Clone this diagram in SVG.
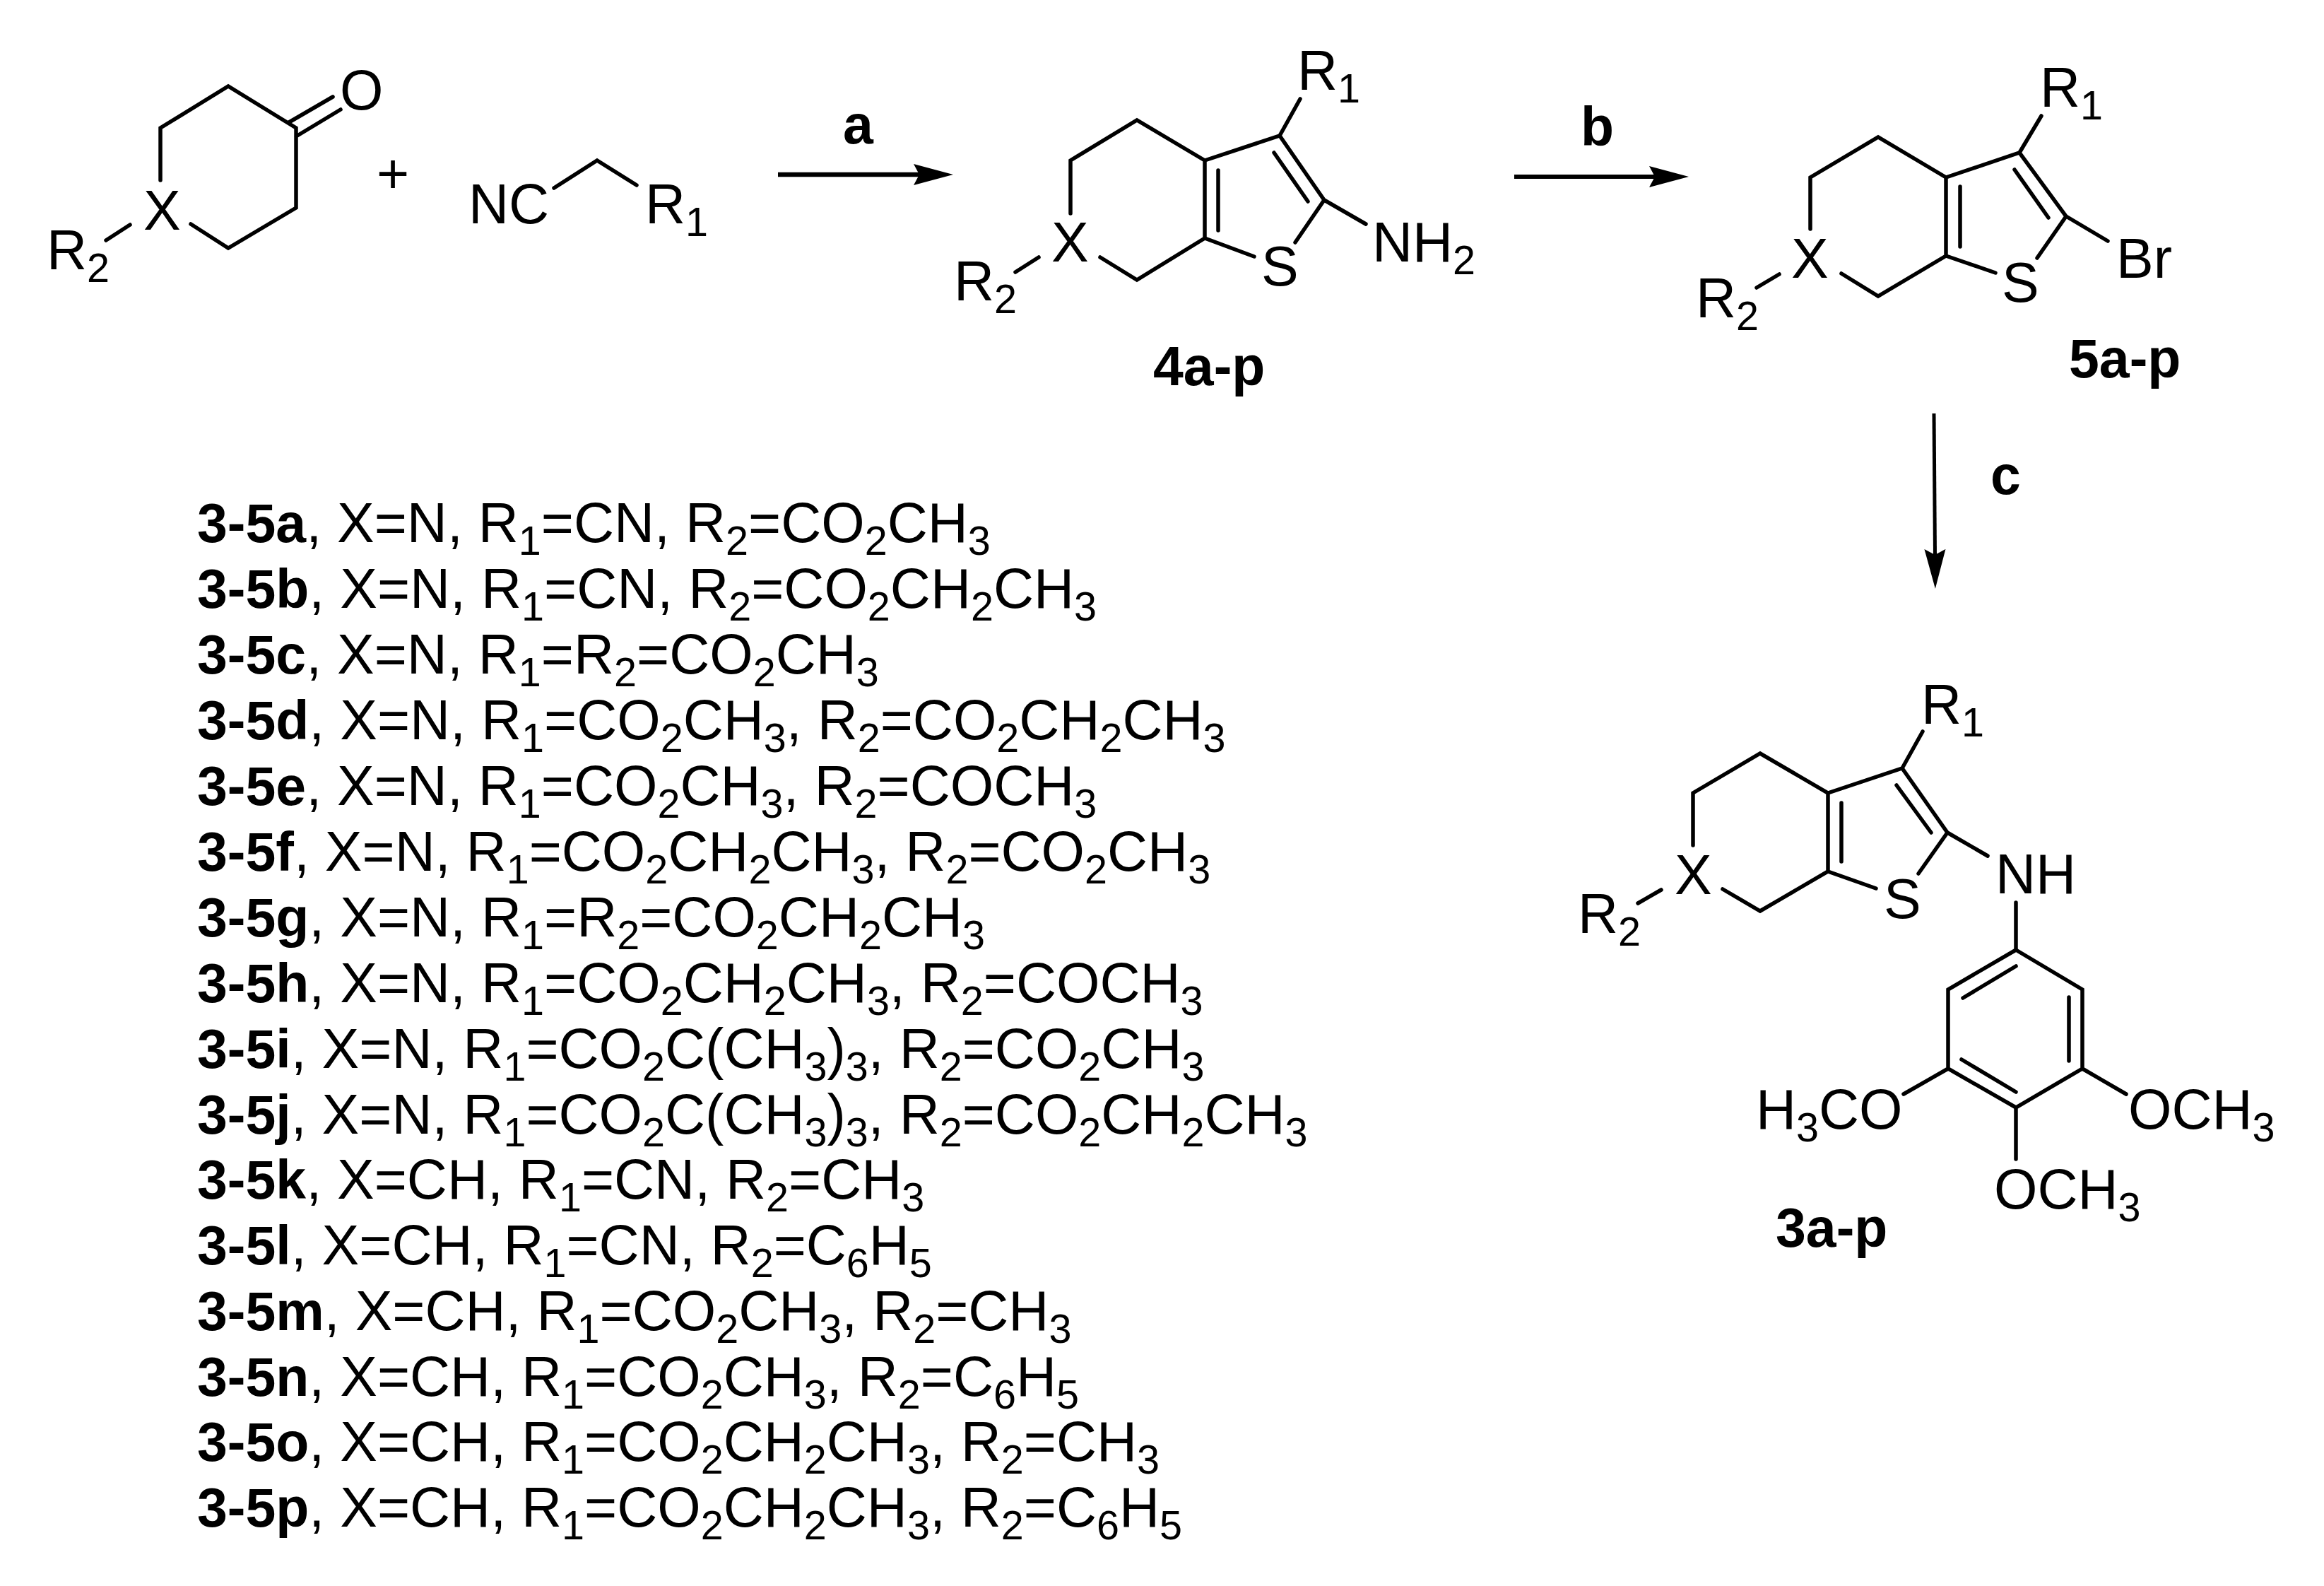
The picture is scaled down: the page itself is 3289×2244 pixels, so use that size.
<svg xmlns="http://www.w3.org/2000/svg" width="3289" height="2244" viewBox="0 0 3289 2244">
<style>
text{font-family:"Liberation Sans",Arial,sans-serif;font-size:79px;fill:#000}
.s{font-size:57.5px;baseline-shift:-17.5px}
.b{font-weight:700;font-size:77px}
.bond{fill:none;stroke:#000;stroke-width:5.5;stroke-linecap:round;stroke-linejoin:miter}
.arrow{fill:none;stroke:#000;marker-end:url(#head)}
</style>
<defs>
<marker id="head" markerUnits="userSpaceOnUse" markerWidth="60" markerHeight="34" refX="8" refY="17" orient="auto">
<path d="M0,2 L56,17 L0,32 L8,17 z" fill="#000"/>
</marker>
</defs>
<rect width="3289" height="2244" fill="#fff"/>
<g id="connectors">
<path class="arrow" stroke-width="6.5" d="M1101,247H1301"/>
<path class="arrow" stroke-width="6" d="M2143,250H2342"/>
<path class="arrow" stroke-width="5" d="M2737,585L2738.5,785"/>
</g>
<g id="ketone">
<path class="bond" d="M227,255V181L323,122L419,181V294L323,351L270,317M184,318L150,340M409,173L471,137M419,193L482,155"/>
<text x="481" y="155">O</text>
<text x="203" y="325">X</text>
<text x="66" y="381">R<tspan class="s">2</tspan></text>
</g>
<text id="plus" x="533" y="273">+</text>
<g id="nitrile">
<path class="bond" d="M784,266L845,227L901,262"/>
<text x="663" y="316">NC</text>
<text x="913" y="316">R<tspan class="s">1</tspan></text>
</g>
<g id="compound-4">
<path class="bond" d="M1515,302V227L1609,170L1705,227V337L1609,396L1557,364M1705,227L1811,192L1874,283L1833,343M1705,337L1775,363M1724,241V326M1803,216L1851,285M1811,192L1840,140M1874,283L1933,317M1470,364L1437,385"/>
<text x="1836" y="127">R<tspan class="s">1</tspan></text>
<text x="1488" y="370">X</text>
<text x="1350" y="425">R<tspan class="s">2</tspan></text>
<text x="1785" y="404">S</text>
<text x="1942" y="370">NH<tspan class="s">2</tspan></text>
<text class="b" x="1632" y="545">4a-p</text>
</g>
<text class="b" x="1193" y="203">a</text>
<g id="compound-5">
<path class="bond" d="M2562,324V251L2658,194L2754,251V362L2658,419L2606,387M2754,251L2858,216L2924,306L2883,365M2754,362L2824,386M2774,264V349M2851,240L2899,308M2858,216L2889,164M2924,306L2983,341M2518,388L2486,407"/>
<text x="2887" y="151">R<tspan class="s">1</tspan></text>
<text x="2995" y="393">Br</text>
<text x="2535" y="393">X</text>
<text x="2400" y="449">R<tspan class="s">2</tspan></text>
<text x="2833" y="427">S</text>
<text class="b" x="2928" y="534">5a-p</text>
</g>
<text class="b" x="2237" y="206">b</text>
<text class="b" x="2817" y="699">c</text>
<g id="compound-3">
<path class="bond" d="M2396,1196V1122L2491,1066L2587,1122V1233L2491,1289L2438,1258M2587,1122L2692,1087L2756,1178L2715,1236M2587,1233L2655,1257M2606,1136V1219M2684,1111L2733,1178M2692,1087L2721,1035M2756,1178L2813,1211M2853,1277V1344M2351,1259L2318,1278"/>
<path class="bond" d="M2853,1344L2947,1400V1512L2853,1567L2757,1512V1400ZM2778,1412L2853,1367M2928,1411V1501M2776,1499L2853,1545M2757,1512L2694,1548M2947,1512L3009,1548M2853,1567V1640"/>
<text x="2719" y="1024">R<tspan class="s">1</tspan></text>
<text x="2824" y="1264">NH</text>
<text x="2370" y="1265">X</text>
<text x="2233" y="1320">R<tspan class="s">2</tspan></text>
<text x="2666" y="1299">S</text>
<text x="2485" y="1597">H<tspan class="s">3</tspan>CO</text>
<text x="3012" y="1597">OCH<tspan class="s">3</tspan></text>
<text x="2822" y="1710">OCH<tspan class="s">3</tspan></text>
<text class="b" x="2513" y="1764">3a-p</text>
</g>
<g id="substituent-list">
<text x="279" y="767"><tspan class="b">3-5a</tspan>, X=N, R<tspan class="s">1</tspan>=CN, R<tspan class="s">2</tspan>=CO<tspan class="s">2</tspan>CH<tspan class="s">3</tspan></text>
<text x="279" y="860"><tspan class="b">3-5b</tspan>, X=N, R<tspan class="s">1</tspan>=CN, R<tspan class="s">2</tspan>=CO<tspan class="s">2</tspan>CH<tspan class="s">2</tspan>CH<tspan class="s">3</tspan></text>
<text x="279" y="953"><tspan class="b">3-5c</tspan>, X=N, R<tspan class="s">1</tspan>=R<tspan class="s">2</tspan>=CO<tspan class="s">2</tspan>CH<tspan class="s">3</tspan></text>
<text x="279" y="1046"><tspan class="b">3-5d</tspan>, X=N, R<tspan class="s">1</tspan>=CO<tspan class="s">2</tspan>CH<tspan class="s">3</tspan>, R<tspan class="s">2</tspan>=CO<tspan class="s">2</tspan>CH<tspan class="s">2</tspan>CH<tspan class="s">3</tspan></text>
<text x="279" y="1139"><tspan class="b">3-5e</tspan>, X=N, R<tspan class="s">1</tspan>=CO<tspan class="s">2</tspan>CH<tspan class="s">3</tspan>, R<tspan class="s">2</tspan>=COCH<tspan class="s">3</tspan></text>
<text x="279" y="1232"><tspan class="b">3-5f</tspan>, X=N, R<tspan class="s">1</tspan>=CO<tspan class="s">2</tspan>CH<tspan class="s">2</tspan>CH<tspan class="s">3</tspan>, R<tspan class="s">2</tspan>=CO<tspan class="s">2</tspan>CH<tspan class="s">3</tspan></text>
<text x="279" y="1325"><tspan class="b">3-5g</tspan>, X=N, R<tspan class="s">1</tspan>=R<tspan class="s">2</tspan>=CO<tspan class="s">2</tspan>CH<tspan class="s">2</tspan>CH<tspan class="s">3</tspan></text>
<text x="279" y="1418"><tspan class="b">3-5h</tspan>, X=N, R<tspan class="s">1</tspan>=CO<tspan class="s">2</tspan>CH<tspan class="s">2</tspan>CH<tspan class="s">3</tspan>, R<tspan class="s">2</tspan>=COCH<tspan class="s">3</tspan></text>
<text x="279" y="1511"><tspan class="b">3-5i</tspan>, X=N, R<tspan class="s">1</tspan>=CO<tspan class="s">2</tspan>C(CH<tspan class="s">3</tspan>)<tspan class="s">3</tspan>, R<tspan class="s">2</tspan>=CO<tspan class="s">2</tspan>CH<tspan class="s">3</tspan></text>
<text x="279" y="1604"><tspan class="b">3-5j</tspan>, X=N, R<tspan class="s">1</tspan>=CO<tspan class="s">2</tspan>C(CH<tspan class="s">3</tspan>)<tspan class="s">3</tspan>, R<tspan class="s">2</tspan>=CO<tspan class="s">2</tspan>CH<tspan class="s">2</tspan>CH<tspan class="s">3</tspan></text>
<text x="279" y="1696"><tspan class="b">3-5k</tspan>, X=CH, R<tspan class="s">1</tspan>=CN, R<tspan class="s">2</tspan>=CH<tspan class="s">3</tspan></text>
<text x="279" y="1789"><tspan class="b">3-5l</tspan>, X=CH, R<tspan class="s">1</tspan>=CN, R<tspan class="s">2</tspan>=C<tspan class="s">6</tspan>H<tspan class="s">5</tspan></text>
<text x="279" y="1882"><tspan class="b">3-5m</tspan>, X=CH, R<tspan class="s">1</tspan>=CO<tspan class="s">2</tspan>CH<tspan class="s">3</tspan>, R<tspan class="s">2</tspan>=CH<tspan class="s">3</tspan></text>
<text x="279" y="1975"><tspan class="b">3-5n</tspan>, X=CH, R<tspan class="s">1</tspan>=CO<tspan class="s">2</tspan>CH<tspan class="s">3</tspan>, R<tspan class="s">2</tspan>=C<tspan class="s">6</tspan>H<tspan class="s">5</tspan></text>
<text x="279" y="2067"><tspan class="b">3-5o</tspan>, X=CH, R<tspan class="s">1</tspan>=CO<tspan class="s">2</tspan>CH<tspan class="s">2</tspan>CH<tspan class="s">3</tspan>, R<tspan class="s">2</tspan>=CH<tspan class="s">3</tspan></text>
<text x="279" y="2160"><tspan class="b">3-5p</tspan>, X=CH, R<tspan class="s">1</tspan>=CO<tspan class="s">2</tspan>CH<tspan class="s">2</tspan>CH<tspan class="s">3</tspan>, R<tspan class="s">2</tspan>=C<tspan class="s">6</tspan>H<tspan class="s">5</tspan></text>
</g>
</svg>
